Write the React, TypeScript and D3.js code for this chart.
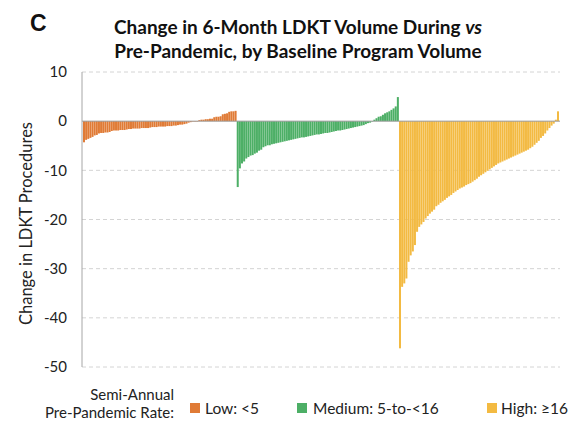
import React from 'react';
import * as d3 from 'd3';

const lowValues = [
  -4.3,
  -3.8, -3.6, -3.4, -3.2,
  -2.9, -2.8,
  -2.5, -2.4, -2.4, -2.3, -2.3, -2.2,
  -2.0, -1.9, -1.9, -1.9, -1.8, -1.8, -1.8, -1.7,
  -1.6, -1.6, -1.5, -1.5, -1.5, -1.5, -1.4, -1.4, -1.4, -1.4, -1.3,
  -1.2, -1.2, -1.2, -1.1, -1.1, -1.1, -1.1, -1.0, -1.0, -1.0, -0.9, -0.9,
  -0.8, -0.7, -0.7, -0.6, -0.5,
  -0.3, -0.2, -0.1, 0, 0,
  0.2, 0.3, 0.3, 0.4, 0.4, 0.5, 0.5,
  0.8, 0.9, 0.9, 1.0,
  1.4, 1.5, 1.6,
  1.9, 2.0, 2.0, 2.1,
];

const mediumValues = [
  -13.4, -9.6, -8.6, -8.2, -7.6, -7.3, -7.0, -6.9, -6.6, -6.4,
  -6.0, -5.8, -5.3, -5.1, -4.9, -4.9, -4.7, -4.6, -4.5, -4.4,
  -4.3, -4.2, -4.1, -4.0, -3.9, -3.8, -3.7, -3.6, -3.5, -3.4,
  -3.3, -3.3, -3.2, -3.1, -3.0, -2.9, -2.8, -2.7, -2.7, -2.6,
  -2.5, -2.4, -2.4, -2.3, -2.2, -2.1, -2.0, -1.9, -1.9, -1.8,
  -1.7, -1.6, -1.5, -1.4, -1.3, -1.2, -1.1, -1.0, -0.9, -0.8,
  -0.6, -0.4, -0.3, -0.1, 0.3, 0.6, 0.9, 1.0, 1.3, 1.6,
  1.8, 2.0, 2.3, 2.6, 3.0, 4.9,
];

const highValues = [
  -46.2, -33.7, -33.0, -32.0, -28.6, -27.3, -26.5, -25.2, -22.5, -21.5,
  -21.0, -20.5, -19.8, -19.3, -18.8, -18.4, -18.0, -17.3, -17.0, -16.6,
  -16.3, -16.0, -15.6, -15.3, -15.0, -14.6, -14.3, -14.0, -13.7, -13.5,
  -13.3, -13.0, -12.8, -12.6, -12.3, -12.0, -11.7, -11.3, -11.0, -10.7,
  -10.4, -10.1, -9.8, -9.5, -9.2, -8.9, -8.6, -8.4, -8.2, -8.0,
  -7.8, -7.6, -7.4, -7.2, -7.0, -6.8, -6.6, -6.4, -6.2, -6.0,
  -5.8, -5.5, -5.2, -4.8, -4.4, -4.0, -3.4, -3.0, -2.5, -1.9,
  -1.4, -0.9, -0.5, 0.3, 2.0,
];

const groupLabels = ['Low: <5', 'Medium: 5-to-<16', 'High: \u226516'];
const groupColors = ['#E07B36', '#4DAF66', '#F3BA42'];
const yTicks = [10, 0, -10, -20, -30, -40, -50];

const titleLines = ['Change in 6-Month LDKT Volume During ', 'Pre-Pandemic, by Baseline Program Volume'];
const yAxisLabel = 'Change in LDKT Procedures';
const legendTitle = ['Semi-Annual', 'Pre-Pandemic Rate:'];

const W = 581;
const H = 425;
const plotLeft = 82;
const plotRight = 560;
const plotTop = 72;
const plotBottom = 367;
const FONT = 'Lato, "Open Sans", sans-serif';

export default function App() {
  const bars = [lowValues, mediumValues, highValues].flatMap((vals, g) =>
    vals.map((v) => ({ v, g }))
  );
  const x = d3
    .scaleBand<number>()
    .domain(d3.range(bars.length))
    .range([plotLeft + 1, plotRight - 1])
    .paddingInner(0.06);
  const y = d3.scaleLinear().domain([-50, 10]).range([plotBottom, plotTop]);

  const legendItems = [
    { sx: 190, tx: 205 },
    { sx: 297, tx: 313 },
    { sx: 487, tx: 501 },
  ];

  return (
    <svg
      width={W}
      height={H}
      style={{ position: 'absolute', left: 0, top: 0, background: '#fff' }}
      fontFamily={FONT}
    >
      <text x={30} y={31} fontSize={23} fontWeight={700} fontFamily="Liberation Sans, Arial, sans-serif" fill="#111">
        C
      </text>
      <text x={298} y={34} textAnchor="middle" fontSize={19} fontWeight={700} fill="#111">
        {titleLines[0]}
        <tspan fontStyle="italic">vs</tspan>
      </text>
      <text x={298} y={58} textAnchor="middle" fontSize={19} fontWeight={700} fill="#111">
        {titleLines[1]}
      </text>

      {yTicks
        .filter((t) => t !== 0)
        .map((t) => (
          <line
            key={'g' + t}
            x1={plotLeft}
            x2={plotRight}
            y1={y(t)}
            y2={y(t)}
            stroke="#d4d4d4"
            strokeWidth={1}
            strokeDasharray="4,3"
          />
        ))}

      {bars.map((b, i) => {
        const y0 = y(0);
        const yv = y(b.v);
        return (
          <rect
            key={i}
            x={x(i)}
            width={x.bandwidth()}
            y={Math.min(y0, yv)}
            height={Math.max(Math.abs(yv - y0), 0.5)}
            fill={groupColors[b.g]}
          />
        );
      })}

      <line x1={plotLeft} x2={plotRight} y1={y(0)} y2={y(0)} stroke="#9a9a9a" strokeWidth={1} />
      <line x1={plotLeft} x2={plotLeft} y1={plotTop} y2={plotBottom} stroke="#a6a6a6" strokeWidth={1} />

      {yTicks.map((t) => (
        <text key={'t' + t} x={67} y={y(t)} dy="0.35em" textAnchor="end" fontSize={15} fill="#222">
          {t}
        </text>
      ))}

      <text
        transform={`translate(32,${(plotTop + plotBottom) / 2 + 4}) rotate(-90)`}
        textAnchor="middle"
        fontSize={16.5}
        fill="#222"
      >
        {yAxisLabel}
      </text>

      <text x={174} y={400} textAnchor="end" fontSize={15} fill="#222">
        {legendTitle[0]}
      </text>
      <text x={174} y={418} textAnchor="end" fontSize={15} fill="#222">
        {legendTitle[1]}
      </text>
      {groupLabels.map((lab, i) => (
        <g key={lab}>
          <rect x={legendItems[i].sx} y={403} width={10} height={10} fill={groupColors[i]} />
          <text x={legendItems[i].tx} y={414} fontSize={15.5} fill="#222">
            {lab}
          </text>
        </g>
      ))}
    </svg>
  );
}
